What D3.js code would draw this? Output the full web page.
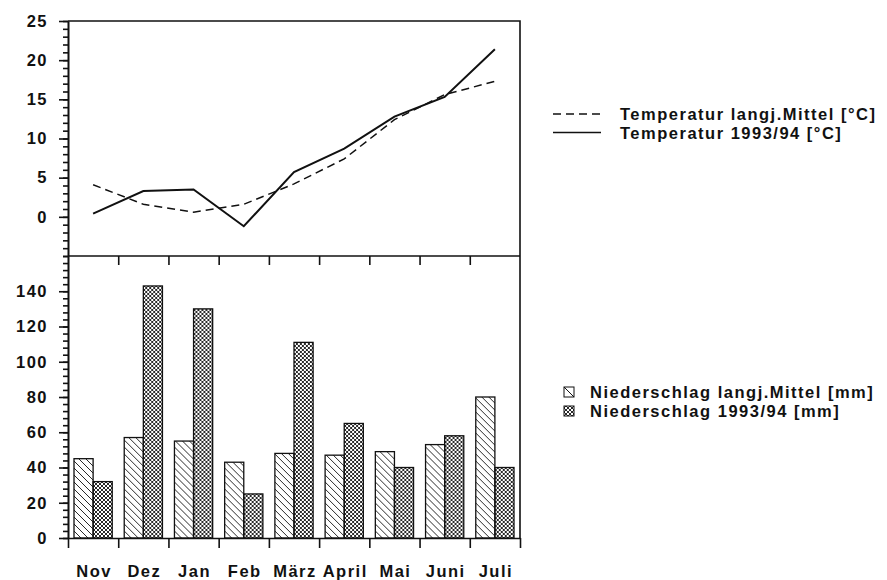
<!DOCTYPE html>
<html>
<head>
<meta charset="utf-8">
<script src="https://d3js.org/d3.v7.min.js"></script>
<style>
body{margin:0;background:#fff;}
text{font-family:"Liberation Sans",Arial,Helvetica,sans-serif;font-weight:bold;font-size:16.5px;letter-spacing:1.5px;fill:#111;}
</style>
</head>
<body>
<svg id="chart" width="887" height="580"></svg>
<script>
// months on the x axis
var months=["Nov","Dez","Jan","Feb","März","April","Mai","Juni","Juli"];
// temperature [°C]
var tempMittel=[4.1,1.6,0.6,1.6,4.2,7.4,12.4,15.6,17.3];
var temp9394=[0.4,3.3,3.5,-1.2,5.7,8.7,12.8,15.3,21.4];
// precipitation [mm]
var rainMittel=[45,57,55,43,48,47,49,53,80];
var rain9394=[32,143,130,25,111,65,40,58,40];
var rainSeries=["mittel","9394"];
// tick labels
var tempTicks=[0,5,10,15,20,25];
var rainTicks=[0,20,40,60,80,100,120,140];
var legendTemp=["Temperatur langj.Mittel [°C]","Temperatur 1993/94 [°C]"];
var legendRain=["Niederschlag langj.Mittel [mm]","Niederschlag 1993/94 [mm]"];

var svg=d3.select("#chart");
var L=68,R=520,T=21,MID=256,B=538;

var x=d3.scaleBand().domain(months).range([L,R]).padding(0);
var xb=d3.scaleLinear().domain([0,months.length]).range([L,R]);
var x1=d3.scaleBand().domain(rainSeries).range([6,x.bandwidth()-6]).padding(0);
var yT=d3.scaleLinear().domain([-5,25]).range([MID,T]);
var yR=d3.scaleLinear().domain([0,160]).range([B,MID]);

// patterns
var defs=svg.append("defs");
defs.append("pattern").attr("id","hatch").attr("patternUnits","userSpaceOnUse").attr("width",7).attr("height",7)
 .append("path").attr("d","M-1,-1L8,8M-1,6L1,8M6,-1L8,1").attr("stroke","#111").attr("stroke-width",0.9);
var cp=defs.append("pattern").attr("id","cross").attr("patternUnits","userSpaceOnUse").attr("width",4).attr("height",4);
cp.append("path").attr("d","M-1,-1L5,5M-1,3L1,5M3,-1L5,1").attr("stroke","#111").attr("stroke-width",0.9);
cp.append("path").attr("d","M-1,5L5,-1M-1,1L1,-1M3,5L5,3").attr("stroke","#111").attr("stroke-width",0.9);

// bars
var rows=months.map(function(m,i){return {m:m,v:[rainMittel[i],rain9394[i]]};});
svg.append("g").selectAll("g").data(rows).enter().append("g")
 .attr("transform",function(d){return "translate("+x(d.m)+",0)";})
 .selectAll("rect").data(function(d){return d.v.map(function(v,j){return {s:rainSeries[j],v:v};});})
 .enter().append("rect")
 .attr("x",function(d){return x1(d.s);})
 .attr("width",x1.bandwidth())
 .attr("y",function(d){return yR(d.v);})
 .attr("height",function(d){return yR(0)-yR(d.v);})
 .attr("fill",function(d){return d.s=="mittel"?"url(#hatch)":"url(#cross)";})
 .attr("stroke","#111").attr("stroke-width",1.3);

// temperature lines
var line=d3.line().x(function(d,i){return x(months[i])+x.bandwidth()/2;}).y(function(d){return yT(d);});
svg.append("path").datum(tempMittel).attr("d",line).attr("fill","none").attr("stroke","#111").attr("stroke-width",1.5).attr("stroke-dasharray","8,5");
svg.append("path").datum(temp9394).attr("d",line).attr("fill","none").attr("stroke","#111").attr("stroke-width",2);

// frame
svg.append("path").attr("d","M"+L+","+T+"H"+R+"V"+B).attr("fill","none").attr("stroke","#111").attr("stroke-width",1.6);
svg.append("line").attr("x1",L).attr("x2",R).attr("y1",MID).attr("y2",MID).attr("stroke","#111").attr("stroke-width",1.6);

// left axes
function styleAxis(g){g.selectAll("path,line").attr("stroke","#111").attr("stroke-width",1.6);g.selectAll("text").attr("fill","#111");}
svg.append("g").attr("transform","translate("+L+",0)")
 .call(d3.axisLeft(yT).tickValues(d3.range(-5,26,1)).tickSize(5).tickFormat("").tickSizeOuter(0)).call(styleAxis);
svg.append("g").attr("transform","translate("+L+",0)")
 .call(d3.axisLeft(yT).tickValues(tempTicks).tickSize(9).tickPadding(11).tickSizeOuter(0)).call(styleAxis);
svg.append("g").attr("transform","translate("+L+",0)")
 .call(d3.axisLeft(yR).tickValues(d3.range(0,161,4)).tickSize(5).tickFormat("").tickSizeOuter(0)).call(styleAxis);
svg.append("g").attr("transform","translate("+L+",0)")
 .call(d3.axisLeft(yR).tickValues(rainTicks).tickSize(9).tickPadding(11).tickSizeOuter(0)).call(styleAxis);

// bottom axis: ticks at month boundaries, labels at centres
svg.append("g").attr("transform","translate(0,"+B+")")
 .call(d3.axisBottom(xb).tickValues(d3.range(0,months.length+1)).tickSize(10).tickFormat("").tickSizeOuter(0)).call(styleAxis);
svg.append("g").attr("transform","translate(0,"+MID+")")
 .call(d3.axisBottom(xb).tickValues(d3.range(1,months.length)).tickSize(9).tickFormat("").tickSizeOuter(0)).call(styleAxis)
 .select(".domain").remove();
svg.append("g").selectAll("text").data(months).enter().append("text")
 .attr("x",function(d){return x(d)+x.bandwidth()/2+1;}).attr("y",577).attr("text-anchor","middle").text(function(d){return d;});

// legends
var lt=svg.append("g");
lt.selectAll("line").data(legendTemp).enter().append("line")
 .attr("x1",553).attr("x2",601).attr("y1",function(d,i){return 114+i*18.5;}).attr("y2",function(d,i){return 114+i*18.5;})
 .attr("stroke","#111").attr("stroke-width",1.4).attr("stroke-dasharray",function(d,i){return i==0?"8,5":null;});
lt.selectAll("text").data(legendTemp).enter().append("text")
 .attr("x",620).attr("y",function(d,i){return 120+i*19;}).text(function(d){return d;});

var lr=svg.append("g");
lr.selectAll("rect").data(legendRain).enter().append("rect")
 .attr("x",564).attr("y",function(d,i){return 387+i*19;}).attr("width",10).attr("height",10)
 .attr("fill",function(d,i){return i==0?"#fff":"url(#cross)";}).attr("stroke","#111").attr("stroke-width",1);
lr.append("line").attr("x1",564).attr("y1",387).attr("x2",574).attr("y2",397).attr("stroke","#111").attr("stroke-width",1);
lr.selectAll("text").data(legendRain).enter().append("text")
 .attr("x",590).attr("y",function(d,i){return 398+i*19;}).text(function(d){return d;});
</script>
</body>
</html>
